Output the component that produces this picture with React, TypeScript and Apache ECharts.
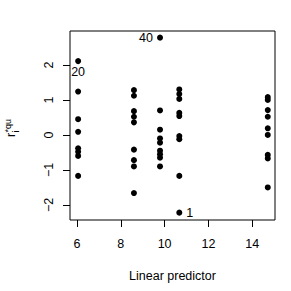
import React, { useEffect, useRef } from "react";
import * as echarts from "echarts";

// Linear predictor (x) for each column of points
const colX = [6.05, 8.6, 9.79, 10.67, 14.71];
// Residuals r_i^{*qu} in each column
const col1 = [2.11, 1.24, 0.45, 0.09, -0.38, -0.48, -0.6, -1.17];
const col2 = [1.28, 1.12, 0.68, 0.52, 0.36, -0.42, -0.72, -0.9, -1.66];
const col3 = [2.78, 0.7, 0.15, -0.1, -0.22, -0.45, -0.55, -0.65, -0.9];
const col4 = [1.3, 1.17, 1.03, 0.63, 0.54, -0.03, -0.12, -1.17, -2.22];
const col5 = [1.08, 1.0, 0.71, 0.52, 0.19, 0.0, -0.57, -0.67, -1.5];
// Identified points: [column index, row index, label]
const labelled: [number, number, string][] = [
  [0, 0, "20"],
  [2, 0, "40"],
  [3, 8, "1"],
];
const xTicks = [6, 8, 10, 12, 14];
const yTicks = [-2, -1, 0, 1, 2];

const FONT = "Liberation Sans, Arial, Helvetica, sans-serif";

export default function App() {
  const ref = useRef<HTMLDivElement>(null);
  useEffect(() => {
    if (!ref.current) return;
    const chart = echarts.init(ref.current, null, { renderer: "svg" });
    const cols = [col1, col2, col3, col4, col5];
    const labelPos: Record<string, any> = {
      "20": { position: "bottom", distance: 1 },
      "40": { position: "left", distance: 4 },
      "1": { position: "right", distance: 4 },
    };
    const data: any[] = [];
    cols.forEach((c, ci) => {
      c.forEach((v, ri) => {
        const lab = labelled.find((l) => l[0] === ci && l[1] === ri);
        if (lab) {
          data.push({
            value: [colX[ci], v],
            label: {
              show: true,
              formatter: lab[2],
              color: "#000",
              fontSize: 12.5,
              fontFamily: FONT,
              ...labelPos[lab[2]],
            },
          });
        } else {
          data.push([colX[ci], v]);
        }
      });
    });
    chart.setOption({
      animation: false,
      backgroundColor: "#fff",
      grid: {
        left: 70,
        top: 31,
        right: 16,
        bottom: 71,
        show: true,
        borderColor: "#000",
        borderWidth: 1,
        backgroundColor: "transparent",
      },
      xAxis: {
        type: "value",
        min: 5.68,
        max: 15.04,
        name: "Linear predictor",
        nameLocation: "middle",
        nameGap: 49,
        nameTextStyle: { color: "#000", fontSize: 12.5, fontFamily: FONT },
        axisLine: { show: false, onZero: false },
        splitLine: { show: false },
        axisTick: {
          show: true,
          length: 7,
          customValues: xTicks,
          lineStyle: { color: "#000", width: 1 },
        },
        axisLabel: {
          customValues: xTicks,
          margin: 17,
          color: "#000",
          fontSize: 12.5,
          fontFamily: FONT,
        },
      },
      yAxis: {
        type: "value",
        min: -2.43,
        max: 2.97,
        axisLine: { show: false, onZero: false },
        splitLine: { show: false },
        axisTick: {
          show: true,
          length: 7,
          customValues: yTicks,
          lineStyle: { color: "#000", width: 1 },
        },
        axisLabel: {
          customValues: yTicks,
          rotate: 90,
          margin: 15,
          color: "#000",
          fontSize: 12.5,
          fontFamily: FONT,
          formatter: (v: number) => (v < 0 ? "\u2212" + Math.abs(v) : String(v)),
        },
      },
      graphic: [
        {
          type: "group",
          x: 17,
          y: 137,
          rotation: Math.PI / 2,
          children: [
            {
              type: "text",
              x: 0,
              y: 0,
              style: { text: "r", fontSize: 12.5, fontFamily: FONT, fill: "#000", verticalAlign: "bottom" },
            },
            {
              type: "text",
              x: 4.5,
              y: 3,
              style: { text: "i", fontSize: 9, fontFamily: FONT, fill: "#000", verticalAlign: "bottom" },
            },
            {
              type: "text",
              x: 4.5,
              y: -5,
              style: { text: "*qu", fontSize: 9, fontFamily: FONT, fill: "#000", verticalAlign: "bottom" },
            },
          ],
        },
      ],
      series: [
        {
          type: "scatter",
          symbol: "circle",
          symbolSize: 6,
          itemStyle: { color: "#000", opacity: 1 },
          data,
        },
      ],
    });
    return () => chart.dispose();
  }, []);
  return (
    <div
      ref={ref}
      style={{ position: "fixed", left: 0, top: 0, width: 291, height: 291 }}
    />
  );
}
